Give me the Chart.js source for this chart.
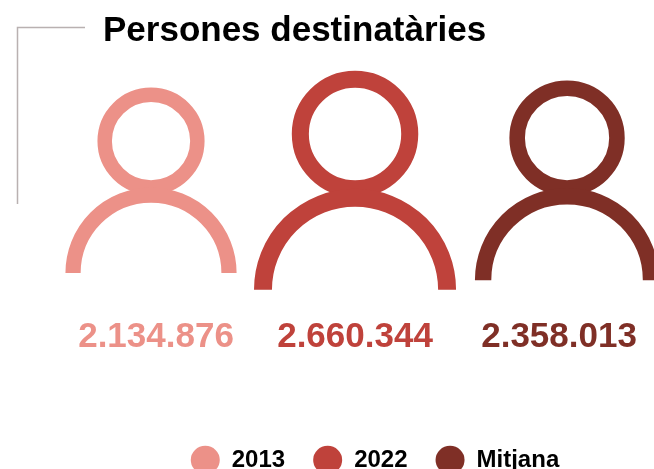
<!DOCTYPE html>
<html>
<head>
<meta charset="utf-8">
<style>
  body { margin: 0; background: #fff; }
  #chart { display: block; }
</style>
<script src="https://cdn.jsdelivr.net/npm/chart.js@4/dist/chart.umd.min.js"></script>
</head>
<body>
<canvas id="chart" width="654" height="469"></canvas>
<script>
const titleText = 'Persones destinatàries';
const categories = ['2013', '2022', 'Mitjana'];
const persons = [2134876, 2660344, 2358013];
const valueLabels = ['2.134.876', '2.660.344', '2.358.013'];
const colors = ['#ec9188', '#bf423b', '#7f2f26'];

// the people are not drawn from zero, the axis is truncated
const sizeOffset = 775000;
const span = persons[1] + sizeOffset;

const fontFamily = '"Liberation Sans", Arial, sans-serif';
const iconShift = [0, -4, 0];
const labelShift = [5, -4, -8];

function drawPerson(ctx, x, top, bottom, color) {
  const h = bottom - top;
  ctx.strokeStyle = color;
  ctx.lineCap = 'butt';
  // head
  ctx.lineWidth = 0.078 * h;
  ctx.beginPath();
  ctx.arc(x, top + 0.288 * h, 0.25 * h, 0, Math.PI * 2);
  ctx.stroke();
  // shoulders
  ctx.lineWidth = 0.082 * h;
  ctx.beginPath();
  ctx.arc(x, bottom, 0.4207 * h, Math.PI, Math.PI * 2);
  ctx.stroke();
}

const personPlugin = {
  id: 'person',
  afterLayout(chart) {
    // legend sits lower and to the right of the canvas centre
    chart.legend.left += 48;
    chart.legend.right += 48;
    chart.legend.top += 13;
    chart.legend.bottom += 13;
  },
  beforeDatasetDraw(chart, args) {
    const i = args.index;
    const bar = args.meta.data[0];
    drawPerson(chart.ctx, bar.x + iconShift[i], Math.min(bar.y, bar.base), Math.max(bar.y, bar.base), colors[i]);
    return false;
  },
  afterDatasetsDraw(chart) {
    const ctx = chart.ctx;
    ctx.save();
    ctx.fillStyle = '#000';
    ctx.font = 'bold 35px ' + fontFamily;
    ctx.textAlign = 'left';
    ctx.textBaseline = 'alphabetic';
    ctx.fillText(titleText, 103, 41);

    ctx.textAlign = 'center';
    categories.forEach(function(c, i) {
      ctx.fillStyle = colors[i];
      ctx.fillText(valueLabels[i], chart.scales.x.getPixelForValue(i) + labelShift[i], 347);
    });

    ctx.strokeStyle = '#b9b1b1';
    ctx.lineWidth = 1.5;
    ctx.beginPath();
    ctx.moveTo(85, 27.5);
    ctx.lineTo(17.5, 27.5);
    ctx.lineTo(17.5, 204);
    ctx.stroke();
    ctx.restore();
  }
};

const datasets = categories.map(function(c, i) {
  const half = (persons[i] + sizeOffset) / 2;
  return {
    label: c,
    data: [{ x: i, y: [-half, half] }],
    backgroundColor: colors[i],
    grouped: false
  };
});

const chart = new Chart(document.getElementById('chart').getContext('2d'), {
  type: 'bar',
  data: { datasets: datasets },
  plugins: [personPlugin],
  options: {
    responsive: false,
    animation: false,
    events: [],
    layout: { padding: { top: 71 } },
    scales: {
      x: { type: 'linear', display: false, offset: false, min: -0.726, max: 2.418 },
      y: { display: false, min: -1.0356 * span, max: span / 2 }
    },
    plugins: {
      tooltip: { enabled: false },
      legend: {
        position: 'bottom',
        labels: {
          usePointStyle: true,
          pointStyle: 'circle',
          pointStyleWidth: 29,
          boxHeight: 20,
          padding: 28,
          color: '#000',
          font: { family: fontFamily, size: 24, weight: 'bold' }
        }
      }
    }
  }
});
</script>
</body>
</html>
